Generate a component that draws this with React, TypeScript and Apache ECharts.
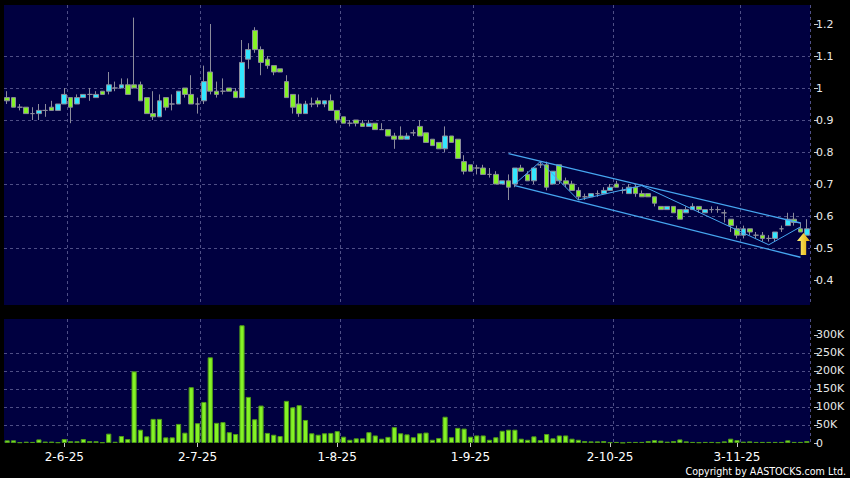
import React, { useEffect, useRef } from "react";
import * as echarts from "echarts";

// ---- calendar (HK trading days) ----
const START_DATE = "2025-05-20";
const END_DATE = "2025-11-18";
const HOLIDAYS = ["2025-07-01", "2025-10-01", "2025-10-07", "2025-10-29"];

function buildTradingDays(): string[] {
  const out: string[] = [];
  const d = new Date(START_DATE + "T00:00:00Z");
  const end = new Date(END_DATE + "T00:00:00Z");
  while (d.getTime() <= end.getTime()) {
    const iso = d.toISOString().slice(0, 10);
    const wd = d.getUTCDay();
    if (wd !== 0 && wd !== 6 && HOLIDAYS.indexOf(iso) < 0) {
      out.push(`${d.getUTCDate()}-${d.getUTCMonth() + 1}-${String(d.getUTCFullYear()).slice(2)}`);
    }
    d.setUTCDate(d.getUTCDate() + 1);
  }
  return out;
}
const categories = buildTradingDays();

// ---- price data ----
const opens = [
  0.97, 0.97, 0.94, 0.94, 0.92, 0.92, 0.93, 0.94, 0.93, 0.95,
  0.97, 0.95, 0.97, 0.98, 0.97, 0.99, 0.99, 1.0, 1.0, 1.01,
  1.01, 1.01, 0.97, 0.92, 0.91, 0.97, 0.95, 0.95, 1.0, 0.98,
  0.95, 0.96, 1.05, 0.99, 0.99, 1.0, 0.99, 0.97, 1.09, 1.18,
  1.12, 1.09, 1.07, 1.06, 1.02, 0.98, 0.95, 0.92, 0.95, 0.96,
  0.95, 0.96, 0.93, 0.91, 0.89, 0.9, 0.89, 0.88, 0.89, 0.87,
  0.87, 0.85, 0.85, 0.84, 0.86, 0.88, 0.86, 0.84, 0.83, 0.81,
  0.85, 0.84, 0.77, 0.76, 0.75, 0.75, 0.73, 0.73, 0.7, 0.71,
  0.7, 0.75, 0.73, 0.71, 0.76, 0.76, 0.7, 0.76, 0.71, 0.7,
  0.68, 0.66, 0.66, 0.67, 0.67, 0.68, 0.7, 0.68, 0.67, 0.69,
  0.67, 0.67, 0.66, 0.63, 0.62, 0.63, 0.62, 0.61, 0.62, 0.63,
  0.61, 0.62, 0.62, 0.61, 0.59, 0.56, 0.54, 0.56, 0.54, 0.54,
  0.53, 0.53, 0.56, 0.57, 0.59, 0.56, 0.54,
];
const closes = [
  0.96, 0.94, 0.94, 0.92, 0.92, 0.93, 0.93, 0.93, 0.95, 0.98,
  0.94, 0.97, 0.98, 0.98, 0.98, 0.98, 1.01, 1.0, 1.01, 0.98,
  1.0, 0.96, 0.92, 0.91, 0.96, 0.94, 0.95, 0.99, 0.98, 0.95,
  0.95, 1.02, 0.99, 0.98, 0.99, 0.99, 0.97, 1.08, 1.12, 1.12,
  1.08, 1.07, 1.05, 1.05, 0.97, 0.94, 0.92, 0.95, 0.95, 0.95,
  0.96, 0.93, 0.9, 0.89, 0.89, 0.89, 0.88, 0.89, 0.87, 0.87,
  0.85, 0.84, 0.84, 0.85, 0.86, 0.85, 0.83, 0.82, 0.81, 0.85,
  0.83, 0.78, 0.74, 0.74, 0.75, 0.73, 0.73, 0.7, 0.71, 0.69,
  0.75, 0.74, 0.71, 0.75, 0.76, 0.69, 0.74, 0.71, 0.7, 0.68,
  0.66, 0.66, 0.67, 0.67, 0.68, 0.69, 0.69, 0.68, 0.69, 0.67,
  0.66, 0.66, 0.64, 0.62, 0.63, 0.61, 0.59, 0.62, 0.63, 0.62,
  0.62, 0.62, 0.62, 0.61, 0.57, 0.54, 0.56, 0.55, 0.54, 0.53,
  0.53, 0.55, 0.56, 0.59, 0.58, 0.55, 0.56,
];
const highs = [
  0.99, 0.97, 0.95, 0.94, 0.94, 0.95, 0.95, 0.96, 0.95, 1.0,
  0.97, 0.98, 0.98, 1.0, 0.99, 0.99, 1.05, 1.02, 1.03, 1.03,
  1.22, 1.02, 0.97, 0.99, 0.98, 0.97, 0.98, 0.99, 1.0, 1.04,
  0.97, 1.07, 1.2, 1.02, 1.03, 1.0, 1.0, 1.15, 1.14, 1.19,
  1.13, 1.1, 1.07, 1.06, 1.04, 0.98, 0.98, 0.96, 0.97, 0.97,
  0.96, 0.98, 0.93, 0.91, 0.9, 0.9, 0.9, 0.9, 0.89, 0.89,
  0.87, 0.86, 0.88, 0.86, 0.87, 0.9, 0.86, 0.84, 0.83, 0.88,
  0.85, 0.84, 0.79, 0.76, 0.76, 0.76, 0.75, 0.74, 0.71, 0.73,
  0.75, 0.76, 0.74, 0.75, 0.77, 0.77, 0.74, 0.76, 0.72, 0.71,
  0.69, 0.67, 0.67, 0.68, 0.69, 0.7, 0.71, 0.69, 0.7, 0.7,
  0.68, 0.67, 0.66, 0.63, 0.63, 0.63, 0.62, 0.63, 0.64, 0.63,
  0.62, 0.63, 0.63, 0.62, 0.59, 0.57, 0.57, 0.56, 0.55, 0.55,
  0.54, 0.55, 0.57, 0.61, 0.61, 0.58, 0.59,
];
const lows = [
  0.95, 0.94, 0.93, 0.92, 0.9, 0.9, 0.91, 0.93, 0.93, 0.95,
  0.89, 0.95, 0.97, 0.96, 0.97, 0.98, 0.98, 0.99, 1.0, 0.98,
  1.0, 0.96, 0.92, 0.9, 0.91, 0.93, 0.93, 0.95, 0.97, 0.95,
  0.92, 0.95, 0.98, 0.97, 0.98, 0.99, 0.97, 0.97, 1.06, 1.11,
  1.04, 1.06, 1.04, 1.05, 0.97, 0.92, 0.91, 0.92, 0.94, 0.94,
  0.94, 0.93, 0.89, 0.89, 0.88, 0.88, 0.88, 0.88, 0.87, 0.87,
  0.85, 0.81, 0.84, 0.84, 0.85, 0.85, 0.83, 0.82, 0.81, 0.8,
  0.83, 0.78, 0.73, 0.74, 0.73, 0.73, 0.72, 0.7, 0.7, 0.65,
  0.69, 0.74, 0.71, 0.7, 0.75, 0.68, 0.7, 0.7, 0.69, 0.68,
  0.65, 0.65, 0.66, 0.66, 0.67, 0.68, 0.69, 0.67, 0.67, 0.66,
  0.66, 0.66, 0.63, 0.62, 0.62, 0.61, 0.59, 0.61, 0.62, 0.61,
  0.61, 0.61, 0.61, 0.58, 0.55, 0.53, 0.53, 0.54, 0.53, 0.52,
  0.52, 0.52, 0.55, 0.57, 0.57, 0.55, 0.54,
];
// volume in thousands of shares
const volumesK = [
  7.4, 7.4, 2, 3.7, 3, 10, 4, 4, 2, 11,
  5, 5, 11, 5.5, 5, 2, 26, 3.5, 19.4, 11,
  199, 37, 18.5, 67, 67, 15.7, 15.7, 53, 28.7, 155,
  55, 114, 238, 56, 58, 30, 25, 327, 128, 66,
  104, 28, 23, 19.4, 117, 99, 105, 64, 27, 23,
  27, 28, 33, 17.6, 9, 13, 13, 30, 21, 12,
  17, 44, 27, 24, 16, 27, 29, 9, 14, 73,
  16, 42, 40, 17.5, 21, 21, 9, 16, 34, 37,
  37, 12, 9, 18.5, 8, 25, 13, 21, 21, 12,
  9, 5.5, 4.6, 4.6, 5.5, 2, 3, 1, 3, 3,
  3, 5.5, 8, 6.5, 3.7, 5.5, 10, 4.6, 3, 2,
  3, 3, 2, 4.6, 12, 8, 3.7, 4.6, 3, 3,
  3, 3, 3, 7.4, 3, 3, 5.5,
];

const priceTicks = [0.4, 0.5, 0.6, 0.7, 0.8, 0.9, 1.0, 1.1, 1.2];
const volumeTicksK = [0, 50, 100, 150, 200, 250, 300];

// trend lines, in [trading-day index, price]
const upperChannel = [[79, 0.795], [125, 0.578]];
const lowerChannel = [[80, 0.695], [125, 0.471]];
const zigzag = [[80, 0.7], [84, 0.77], [90, 0.65], [100, 0.695], [120, 0.51], [125, 0.566]];
const arrowPoint = [125, 0.5125];

const COPYRIGHT = "Copyright by AASTOCKS.com Ltd.";

const NAVY = "#000040";
const GRIDLINE = "#4e4e86";
const CYAN = "#33e6ff";
const LIME = "#84f226";
const WICK = "#8c8c9c";
const TREND = "#46a6f0";

const monthStarts = new Set<number>();
categories.forEach((c, i) => {
  if (i > 0 && c.split("-")[1] !== categories[i - 1].split("-")[1]) monthStarts.add(i);
});
const labelFn = (i: number) => monthStarts.has(i);
const splitFn = (i: number) => monthStarts.has(i - 1);

export default function App() {
  const ref = useRef<HTMLDivElement>(null);
  useEffect(() => {
    const chart = echarts.init(ref.current!, null, { renderer: "svg" });
    const dashed = { color: GRIDLINE, type: [3, 3] as any, width: 1 };
    const option: any = {
      animation: false,
      backgroundColor: "#000000",
      grid: [
        { left: 4, top: 5, width: 806, height: 300, show: true, backgroundColor: NAVY, borderWidth: 0 },
        { left: 4, top: 319, width: 806, height: 124, show: true, backgroundColor: NAVY, borderWidth: 0 },
      ],
      xAxis: [
        {
          type: "category",
          gridIndex: 0,
          data: categories,
          axisLine: { show: false },
          axisTick: { show: false },
          axisLabel: { show: false },
          splitLine: { show: true, interval: splitFn, lineStyle: dashed },
        },
        {
          type: "category",
          gridIndex: 1,
          data: categories,
          offset: 2,
          axisLine: { show: false },
          axisTick: {
            show: true,
            alignWithLabel: true,
            interval: labelFn,
            length: 4,
            lineStyle: { color: "#c8c8c8" },
          },
          axisLabel: {
            interval: labelFn,
            color: "#ffffff",
            fontSize: 12,
            fontFamily: "DejaVu Sans",
            margin: 6,
          },
          splitLine: { show: true, interval: splitFn, lineStyle: dashed },
        },
      ],
      yAxis: [
        {
          type: "value",
          gridIndex: 0,
          position: "right",
          min: 0.3219,
          max: 1.2594,
          splitNumber: 9,
          offset: 4,
          axisLine: { show: false },
          axisTick: { show: true, length: 4, lineStyle: { color: "#c8c8c8" }, customValues: priceTicks },
          axisLabel: {
            customValues: priceTicks,
            color: "#e8e8e8",
            fontSize: 11,
            fontFamily: "DejaVu Sans",
            margin: 2,
            formatter: (v: number) => String(Math.round(v * 10) / 10),
          },
          splitLine: { show: true, showMinLine: false, showMaxLine: false, lineStyle: dashed },
        },
        {
          type: "value",
          gridIndex: 1,
          position: "right",
          min: 0,
          max: 344.4,
          splitNumber: 7,
          offset: 4,
          axisLine: { show: false },
          axisTick: { show: true, length: 4, lineStyle: { color: "#c8c8c8" }, customValues: volumeTicksK },
          axisLabel: {
            customValues: volumeTicksK,
            color: "#e8e8e8",
            fontSize: 11,
            fontFamily: "DejaVu Sans",
            margin: 2,
            formatter: (v: number) => (v === 0 ? "0" : `${Math.round(v)}K`),
          },
          splitLine: { show: true, showMinLine: false, showMaxLine: false, lineStyle: dashed },
        },
      ],
      series: [
        {
          type: "candlestick",
          xAxisIndex: 0,
          yAxisIndex: 0,
          barWidth: "82%",
          data: categories.map((_, i) => [opens[i], closes[i], lows[i], highs[i]]),
          itemStyle: {
            color: CYAN,
            color0: LIME,
            borderColor: WICK,
            borderColor0: WICK,
            borderColorDoji: WICK,
            borderWidth: 1,
          },
          markPoint: {
            silent: true,
            data: [
              {
                coord: arrowPoint,
                symbol: "path://M6,0 L12,8 L8.5,8 L8.5,22 L3.5,22 L3.5,8 L0,8 Z",
                symbolSize: [13, 22],
                symbolOffset: [3, 0],
                itemStyle: {
                  color: new echarts.graphic.LinearGradient(0, 0, 1, 0, [
                    { offset: 0, color: "#fff27a" },
                    { offset: 1, color: "#e0a800" },
                  ]),
                },
                label: { show: false },
              },
            ],
          },
        },
        {
          type: "line",
          xAxisIndex: 0,
          yAxisIndex: 0,
          data: upperChannel,
          symbol: "none",
          silent: true,
          lineStyle: { color: TREND, width: 1.4 },
        },
        {
          type: "line",
          xAxisIndex: 0,
          yAxisIndex: 0,
          data: lowerChannel,
          symbol: "none",
          silent: true,
          lineStyle: { color: TREND, width: 1.4 },
        },
        {
          type: "line",
          xAxisIndex: 0,
          yAxisIndex: 0,
          data: zigzag,
          symbol: "none",
          silent: true,
          lineStyle: { color: TREND, width: 1 },
        },
        {
          type: "bar",
          xAxisIndex: 1,
          yAxisIndex: 1,
          barWidth: "82%",
          data: volumesK,
          itemStyle: { color: LIME, borderColor: "#4f9a18", borderWidth: 1 },
        },
      ],
      graphic: [
        {
          type: "text",
          right: 4,
          top: 465,
          style: {
            text: COPYRIGHT,
            fill: "#ffffff",
            font: '10.6px "DejaVu Sans Condensed", "DejaVu Sans"',
          },
        },
      ],
    };
    chart.setOption(option);
    return () => chart.dispose();
  }, []);
  return (
    <div
      ref={ref}
      style={{ position: "fixed", left: 0, top: 0, width: 850, height: 478, background: "#000" }}
    />
  );
}
